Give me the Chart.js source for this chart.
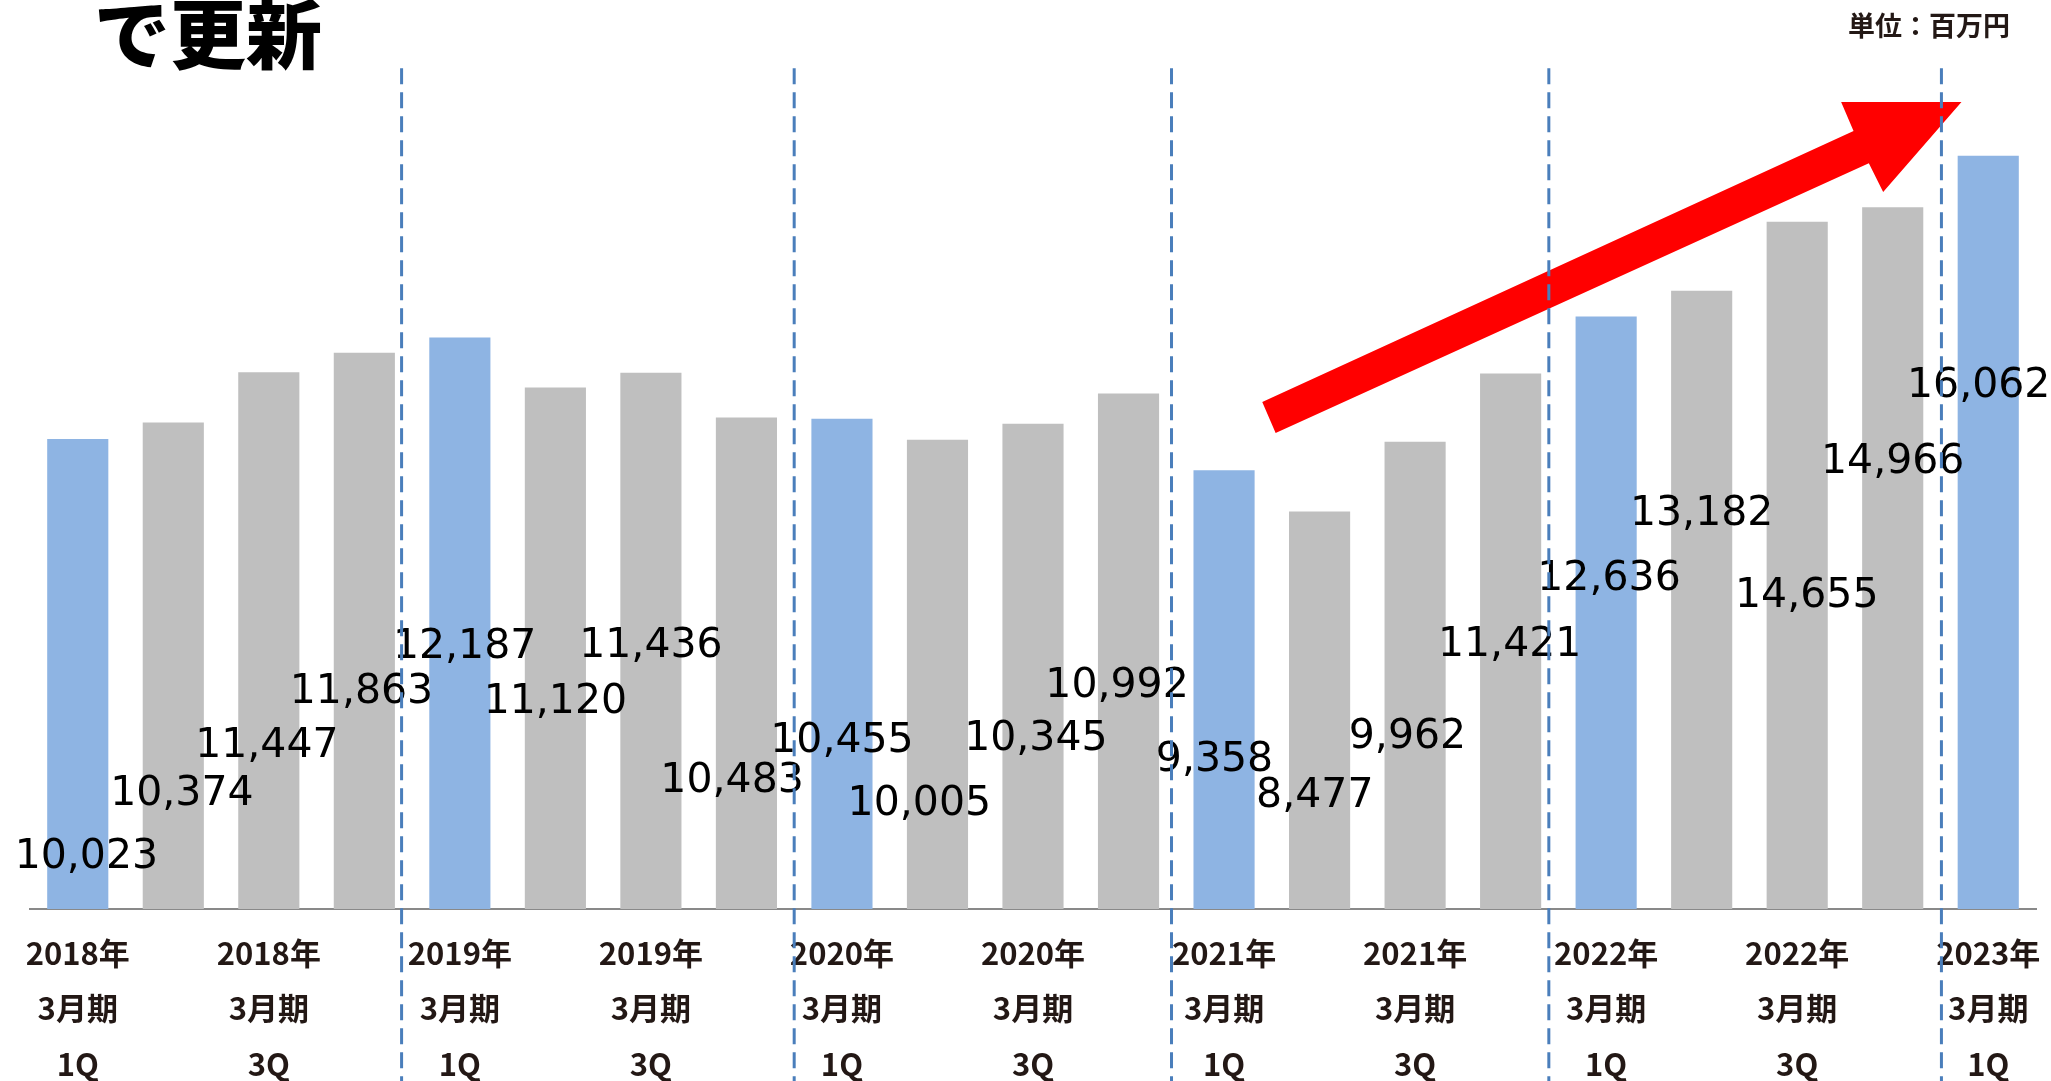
<!DOCTYPE html>
<html lang="ja">
<head>
<meta charset="utf-8">
<title>四半期売上高推移</title>
<script src="https://cdn.jsdelivr.net/npm/chart.js@4.4.1/dist/chart.umd.min.js"></script>
<style>
  html, body { margin: 0; padding: 0; background: #fff; }
  #salesChart { display: block; }
</style>
</head>
<body>
<canvas id="salesChart" width="2051" height="1081"></canvas>
<script>
// quarterly sales (百万円)
const categories = [
  '2018年3月期 1Q', '2018年3月期 2Q', '2018年3月期 3Q', '2018年3月期 4Q',
  '2019年3月期 1Q', '2019年3月期 2Q', '2019年3月期 3Q', '2019年3月期 4Q',
  '2020年3月期 1Q', '2020年3月期 2Q', '2020年3月期 3Q', '2020年3月期 4Q',
  '2021年3月期 1Q', '2021年3月期 2Q', '2021年3月期 3Q', '2021年3月期 4Q',
  '2022年3月期 1Q', '2022年3月期 2Q', '2022年3月期 3Q', '2022年3月期 4Q',
  '2023年3月期 1Q'
];
const sales = [
  10023, 10374, 11447, 11863,
  12187, 11120, 11436, 10483,
  10455, 10005, 10345, 10992,
  9358, 8477, 9962, 11421,
  12636, 13182, 14655, 14966,
  16062
];
const tickLabels = [
  ['2018年', '3月期', '1Q'], '', ['2018年', '3月期', '3Q'], '',
  ['2019年', '3月期', '1Q'], '', ['2019年', '3月期', '3Q'], '',
  ['2020年', '3月期', '1Q'], '', ['2020年', '3月期', '3Q'], '',
  ['2021年', '3月期', '1Q'], '', ['2021年', '3月期', '3Q'], '',
  ['2022年', '3月期', '1Q'], '', ['2022年', '3月期', '3Q'], '',
  ['2023年', '3月期', '1Q']
];
const headline = 'で更新';
const unitText = '単位：百万円';

// where the value labels sit (y in sales units, x shift in categories)
const labelLevel = [1100, 2450, 3470, 4620, 5580, 4410, 5600, 2720, 3580, 2230, 3620,
  4750, 3170, 2410, 3660, 5620, 7030, 8420, 6670, 9530, 11150];
const labelShift = [0.09, 0.09, -0.02, -0.03, 0.05, 0, 0, -0.15, 0, -0.19, 0.03,
  -0.12, -0.1, -0.05, -0.08, -0.01, 0.03, 0, 0.1, 0, -0.1];
// fiscal year dividers and trend arrow, in (category, sales) units
const dividerAt = [3.39, 7.5, 11.45, 15.4, 19.51];
const dividerTop = 17930;
const arrowShape = [[12.40, 10810], [18.59, 16590], [18.46, 17210], [19.72, 17210],
  [18.90, 15290], [18.75, 15900], [12.54, 10150]];

const BLUE = '#8EB4E3';
const GRAY = '#BFBFBF';
const INK = '#231815';
const JP_FONT = '"Noto Sans CJK JP", "Noto Sans", sans-serif';

const overlay = {
  id: 'overlay',
  afterDatasetsDraw(chart) {
    const { ctx } = chart;
    const { x, y } = chart.scales;
    ctx.save();

    ctx.font = '41px "DejaVu Sans", Verdana, sans-serif';
    ctx.fillStyle = '#000';
    ctx.textAlign = 'center';
    ctx.textBaseline = 'middle';
    sales.forEach((v, i) => {
      ctx.fillText(v.toLocaleString('en-US'),
        x.getPixelForValue(i + labelShift[i]), y.getPixelForValue(labelLevel[i]));
    });

    ctx.beginPath();
    arrowShape.forEach(([c, v], n) => {
      const px = x.getPixelForValue(c);
      const py = y.getPixelForValue(v);
      if (n === 0) ctx.moveTo(px, py); else ctx.lineTo(px, py);
    });
    ctx.closePath();
    ctx.fillStyle = '#FF0000';
    ctx.fill();

    ctx.strokeStyle = '#4A7EBB';
    ctx.lineWidth = 3;
    ctx.setLineDash([16, 8]);
    dividerAt.forEach(pos => {
      const px = x.getPixelForValue(pos);
      ctx.beginPath();
      ctx.moveTo(px, y.getPixelForValue(dividerTop));
      ctx.lineTo(px, chart.height);
      ctx.stroke();
    });
    ctx.restore();
  },
  afterDraw(chart) {
    const { ctx } = chart;
    ctx.save();
    ctx.textBaseline = 'alphabetic';
    ctx.fillStyle = '#000';
    ctx.textAlign = 'left';
    ctx.font = '900 76px ' + JP_FONT;
    ctx.fillText(headline, 94, 63);

    ctx.fillStyle = INK;
    ctx.textAlign = 'right';
    ctx.font = 'bold 27px ' + JP_FONT;
    ctx.fillText(unitText, 2010, 36);
    ctx.restore();
  }
};

new Chart(document.getElementById('salesChart'), {
  type: 'bar',
  data: {
    labels: categories,
    datasets: [{
      data: sales,
      backgroundColor: categories.map(c => c.endsWith('1Q') ? BLUE : GRAY),
      barPercentage: 0.64,
      categoryPercentage: 1
    }]
  },
  options: {
    responsive: false,
    animation: false,
    layout: { padding: { left: 30, right: 15, top: 18, bottom: 0 } },
    plugins: {
      legend: { display: false },
      tooltip: { enabled: false }
    },
    scales: {
      x: {
        grid: { display: false, drawTicks: false },
        border: { display: true, color: '#898989', width: 2 },
        ticks: {
          autoSkip: false,
          maxRotation: 0,
          padding: 16,
          color: INK,
          font: { family: JP_FONT, size: 31, weight: 'bold', lineHeight: 1.79 },
          callback: (val, i) => tickLabels[i]
        },
        afterFit(scale) {
          scale.height = 172;
          scale.paddingLeft = 0;
          scale.paddingRight = 0;
        }
      },
      y: { display: false, min: 0, max: 19000 }
    }
  },
  plugins: [overlay]
});
</script>
</body>
</html>
